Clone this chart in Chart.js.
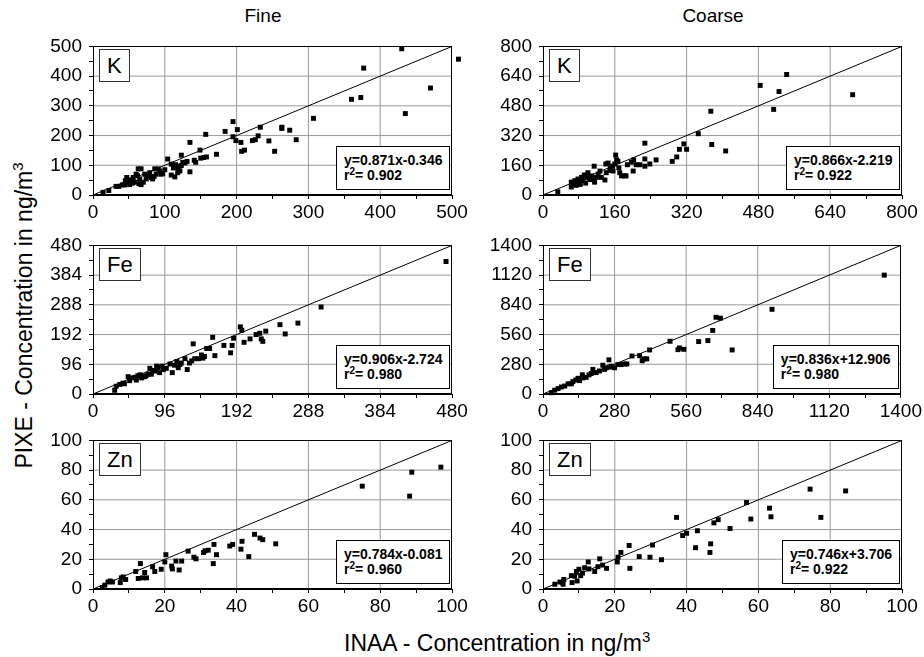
<!DOCTYPE html>
<html>
<head>
<meta charset="utf-8">
<script src="https://cdn.jsdelivr.net/npm/chart.js@4.4.1/dist/chart.umd.min.js"></script>
<style>
  body { margin: 0; background: #fff; overflow: hidden; font-family: "Liberation Sans", Arial, sans-serif; }
  #wrap { position: relative; width: 924px; height: 657px; }
  canvas { position: absolute; }
  .title { position: absolute; font-size: 19px; line-height: 1; transform: translateX(-50%); white-space: nowrap; }
  .axt { position: absolute; font-size: 23px; line-height: 1; white-space: nowrap; }
  .axt sup { font-size: 15px; vertical-align: 9px; line-height: 0; }
  .el { position: absolute; background: #fff; border: 1px solid #333; font-size: 22px; height: 31px; line-height: 31px; padding: 0 7px; }
  .eq { position: absolute; background: #fff; border: 1px solid #000; font-weight: bold; font-size: 14px; line-height: 15px; padding: 6px 7px 6px 7px; white-space: nowrap; }
  .eq sup { font-size: 10px; vertical-align: 5px; line-height: 0; }
</style>
</head>
<body>
<div id="wrap">
  <div class="title" style="left:263px; top:6px;">Fine</div>
  <div class="title" style="left:713px; top:6px;">Coarse</div>
  <div class="axt" id="ytitle">PIXE - Concentration in ng/m<sup>3</sup></div>
  <div class="axt" id="xtitle">INAA - Concentration in ng/m<sup>3</sup></div>
</div>
<script>
// INAA (x) vs PIXE (y), ng/m3
const fineK = [[14,9],[22,15],[32,29],[36,29],[41,34],[44,34],[47,59],[49,43],[51,35],[53,51],
  [56,59],[58,43],[60,70],[63,88],[65,54],[67,88],[64,38],[67,35],[70,43],[72,70],
  [74,54],[79,75],[81,59],[83,54],[86,88],[88,70],[91,88],[93,81],[95,70],[97,72],
  [104,121],[109,104],[109,67],[112,91],[114,61],[115,102],[117,97],[119,86],[121,81],[123,99],
  [123,134],[128,108],[131,113],[135,177],[135,78],[141,117],[143,110],[149,151],[150,124],[154,126],
  [157,204],[158,128],[172,137],[184,214],[195,247],[195,196],[199,183],[201,220],[206,177],[207,147],
  [211,151],[222,183],[226,186],[230,199],[233,228],[245,182],[253,147],[263,228],[263,224],[274,218],
  [283,186],[307,258],[360,322],[373,328],[377,427],[430,492],[435,274],[470,360],[509,457],
  [45,48],[55,40],[62,65],[75,62],[85,62],[100,85],[118,75],[125,110]];

const coarseK = [[33,17],[63,43],[63,69],[67,60],[71,77],[74,52],[78,86],[80,69],[83,57],[86,95],
  [89,77],[92,108],[95,64],[98,95],[100,120],[104,83],[108,103],[112,86],[114,155],[115,69],
  [119,95],[123,112],[127,129],[130,95],[138,81],[140,167],[141,120],[145,172],[149,132],[150,146],
  [155,155],[156,129],[160,167],[162,215],[164,189],[167,181],[169,146],[171,120],[175,103],[182,103],
  [185,103],[188,163],[197,177],[202,189],[201,129],[208,163],[216,163],[227,279],[227,194],[227,155],
  [238,167],[252,189],[288,181],[298,205],[304,246],[314,275],[320,246],[346,330],[374,451],[376,272],
  [407,237],[484,590],[514,461],[526,557],[543,649],[690,540]];

const fineFe = [[29,12],[31,25],[36,31],[40,35],[42,33],[47,56],[49,43],[53,52],[56,54],[58,45],
  [60,59],[63,62],[65,52],[67,56],[69,56],[71,59],[74,64],[76,83],[78,64],[80,76],
  [83,74],[85,90],[87,85],[89,69],[92,90],[94,79],[98,83],[103,97],[106,69],[109,93],
  [112,105],[114,85],[116,95],[118,100],[123,114],[126,79],[129,100],[132,107],[134,162],[136,114],
  [141,114],[145,126],[147,116],[149,121],[152,147],[156,147],[160,183],[163,124],[175,157],[184,133],
  [186,157],[188,180],[197,217],[199,206],[202,167],[210,178],[218,192],[223,196],[225,178],[227,170],
  [231,203],[250,224],[257,194],[274,229],[305,281],[472,428]];

const coarseFe = [[33,12],[46,36],[59,51],[72,66],[85,75],[98,96],[111,96],[117,117],[128,132],[137,148],
  [143,126],[154,181],[156,151],[169,157],[180,181],[189,193],[195,232],[202,202],[208,202],[221,217],
  [234,271],[241,232],[247,247],[258,322],[260,253],[267,262],[280,247],[293,277],[306,277],[319,283],
  [328,283],[348,358],[378,361],[388,313],[397,331],[406,331],[417,415],[497,497],[528,418],[534,434],
  [551,421],[609,494],[645,503],[664,599],[677,723],[694,714],[740,415],[896,798],[1335,1120]];

const fineZn = [[2.6,1],[3.3,2.6],[4.2,4.7],[4.8,5.4],[5.4,4.7],[7.6,4.3],[7.9,7.5],[8.4,8.1],[9.1,6.4],[11.9,11.8],
  [12.6,7.1],[13.2,17.1],[13.8,7.5],[14.4,11.1],[14.9,7.5],[16.6,15],[17.2,11.8],[19,13.3],[20,18.2],[20.3,23.1],
  [21.9,15.4],[22.1,13.5],[23.1,18.8],[24,12.8],[24.7,18.8],[26.5,25.5],[28.1,21.4],[28.7,20.3],[30.8,24.6],[31.2,25.7],
  [32.1,26.1],[33.5,17.1],[33.7,30],[34.4,23.1],[38.1,28.9],[38.9,30],[41.2,26.8],[41.5,32.1],[43.4,21.8],[45,36.8],
  [46.5,34.3],[47.3,33.2],[50.9,30.4],[75,69.2],[88.2,62.5],[88.8,78.6],[96.9,82]];

const coarseZn = [[3.3,3.2],[4.7,4.7],[5.4,4.3],[5.8,6.4],[5.6,3.2],[7.9,9],[8.1,4.3],[8.8,8.6],[9.3,11.8],[9.5,5.4],
  [10,13.3],[10.5,9],[11,10.7],[11.6,14.3],[12.6,18.2],[12.8,13.5],[14.4,11.8],[15.3,15],[15.8,20.3],[16.6,16.1],
  [17.7,13.9],[20.7,18.2],[20.9,21.4],[21.7,24.6],[24,29.3],[24.2,13.9],[26.8,21.8],[29.8,21.4],[30.5,29.6],[33,19.7],
  [37.2,48.2],[38.9,36],[40,37.5],[42.5,27.8],[43,39.2],[46.5,24.6],[46.7,30.4],[47.6,44.5],[48.8,46.7],[52.1,40.7],
  [56.7,58.2],[57.9,47.1],[63.1,54.4],[63.5,48.6],[74.4,67.2],[77.4,48.2],[84.3,66]];

// panel order: row by row, Fine left / Coarse right
const panelPoints = [fineK, coarseK, fineFe, coarseFe, fineZn, coarseZn];
const elements = ["K", "K", "Fe", "Fe", "Zn", "Zn"];
const axisMax = [500, 800, 480, 1400, 100, 100];
const axisStep = [100, 160, 96, 280, 20, 20];
const fitEq = ["y=0.871x-0.346", "y=0.866x-2.219", "y=0.906x-2.724", "y=0.836x+12.906", "y=0.784x-0.081", "y=0.746x+3.706"];
const fitR2 = ["0.902", "0.922", "0.980", "0.980", "0.960", "0.922"];

const FONT = '"Liberation Sans", Arial, sans-serif';
const GRID = "#999999";
const wrap = document.getElementById("wrap");

// layout of the 2x3 grid
const colLeft = [0, 473];
const colWidth = [470, 451];
const yAxisWidth = [93, 70];
const padRight = [18, 22];
const rowTop = [28, 227, 422];
const canvasH = 192;

// black frame round the plot area
const frame = {
  id: "frame",
  afterDraw(chart) {
    const a = chart.chartArea, ctx = chart.ctx;
    ctx.save();
    ctx.strokeStyle = "#000";
    ctx.lineWidth = 1;
    ctx.strokeRect(Math.round(a.left) + 0.5, Math.round(a.top) + 0.5, Math.round(a.right - a.left) - 1, Math.round(a.bottom - a.top) - 1);
    ctx.restore();
  }
};

// ticks every half step: labels on the even ones, short marks on all
function axis(max, step, isX, w) {
  return {
    type: "linear",
    min: 0,
    max: max,
    afterFit: s => { if (isX) s.height = 25; else s.width = w; },
    ticks: {
      stepSize: step / 2,
      autoSkip: false,
      maxRotation: 0,
      padding: isX ? 2 : 7,
      color: "#000",
      font: { family: FONT, size: 19 },
      callback: (v, idx) => idx % 2 === 0 ? v : ""
    },
    grid: {
      drawOnChartArea: false,
      color: "#000",
      tickLength: 4,
      lineWidth: 1
    },
    border: { color: "#000", width: 1 }
  };
}

// gray grid lines at the labelled values, drawn as thin line datasets
function gridSets(max, step) {
  const sets = [];
  for (let k = 1; k * step < max - 1e-6; k++) {
    const v = k * step;
    sets.push({ type: "line", data: [{ x: v, y: 0 }, { x: v, y: max }], borderColor: GRID, borderWidth: 1, pointRadius: 0, order: 3 });
    sets.push({ type: "line", data: [{ x: 0, y: v }, { x: max, y: v }], borderColor: GRID, borderWidth: 1, pointRadius: 0, order: 3 });
  }
  return sets;
}

panelPoints.forEach((pts, i) => {
  const col = i % 2, row = Math.floor(i / 2);
  const max = axisMax[i], step = axisStep[i];

  const cv = document.createElement("canvas");
  cv.width = colWidth[col];
  cv.height = canvasH;
  cv.style.left = colLeft[col] + "px";
  cv.style.top = rowTop[row] + "px";
  wrap.appendChild(cv);

  const chart = new Chart(cv, {
    type: "scatter",
    data: {
      datasets: gridSets(max, step).concat([
        {
          type: "line",
          data: [{ x: 0, y: 0 }, { x: max, y: max }],
          borderColor: "#000",
          borderWidth: 1,
          pointRadius: 0,
          order: 2
        },
        {
          data: pts.map(p => ({ x: p[0], y: p[1] })),
          backgroundColor: "#000",
          borderColor: "rgba(0,0,0,0)",
          borderWidth: 4,
          pointStyle: "rect",
          pointRadius: 3.5,
          clip: false,
          order: 1
        }
      ])
    },
    options: {
      responsive: false,
      animation: false,
      devicePixelRatio: 1,
      layout: { padding: { top: 12, right: padRight[col], left: 0, bottom: 0 } },
      plugins: { legend: { display: false }, tooltip: { enabled: false } },
      scales: {
        x: axis(max, step, true),
        y: axis(max, step, false, yAxisWidth[col])
      }
    },
    plugins: [frame]
  });

  const a = chart.chartArea;
  const left = colLeft[col] + a.left, top = rowTop[row] + a.top;
  const right = colLeft[col] + a.right, bottom = rowTop[row] + a.bottom;

  const el = document.createElement("div");
  el.className = "el";
  el.textContent = elements[i];
  el.style.left = (left + 6) + "px";
  el.style.top = (top + 3) + "px";
  wrap.appendChild(el);

  const eq = document.createElement("div");
  eq.className = "eq";
  eq.innerHTML = fitEq[i] + "<br>r<sup>2</sup>= " + fitR2[i];
  wrap.appendChild(eq);
  eq.style.left = (right - 2 - eq.offsetWidth) + "px";
  eq.style.top = (bottom - 5 - eq.offsetHeight) + "px";
});

// axis titles
const xt = document.getElementById("xtitle");
xt.style.left = (497 - xt.offsetWidth / 2) + "px";
xt.style.top = "632px";
const yt = document.getElementById("ytitle");
yt.style.left = (24 - yt.offsetWidth / 2) + "px";
yt.style.top = (315 - yt.offsetHeight / 2) + "px";
yt.style.transform = "rotate(-90deg)";
</script>
</body>
</html>
